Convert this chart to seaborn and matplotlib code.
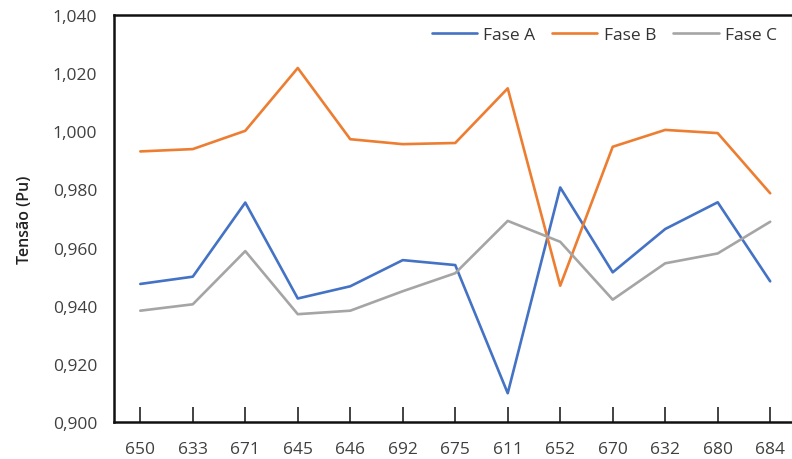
import matplotlib
matplotlib.use("Agg")
import matplotlib.pyplot as plt
import matplotlib.ticker as mticker
import seaborn as sns
import pandas as pd

nodes = ["650", "633", "671", "645", "646", "692", "675", "611", "652", "670", "632", "680", "684"]
fase_a = [0.9475, 0.9500, 0.9755, 0.9425, 0.9467, 0.9557, 0.9540, 0.9099, 0.9807, 0.9515, 0.9664, 0.9756, 0.9484]
fase_b = [0.9931, 0.9939, 1.0002, 1.0218, 0.9973, 0.9956, 0.9960, 1.0148, 0.9469, 0.9947, 1.0005, 0.9994, 0.9787]
fase_c = [0.9383, 0.9405, 0.9588, 0.9371, 0.9383, 0.9450, 0.9512, 0.9692, 0.9620, 0.9421, 0.9546, 0.9580, 0.9689]
series_names = ["Fase A", "Fase B", "Fase C"]
colors = ["#4472C4", "#ED7D31", "#A5A5A5"]

df = pd.DataFrame({"node": nodes * 3,
                   "value": fase_a + fase_b + fase_c,
                   "serie": [series_names[0]] * 13 + [series_names[1]] * 13 + [series_names[2]] * 13})
df["x"] = list(range(13)) * 3

sns.set_style("white")
plt.rcParams["font.family"] = ["Open Sans", "DejaVu Sans"]

fig = plt.figure(figsize=(7.92, 4.6), dpi=100)
ax = fig.add_axes([0.144, 0.0804, 0.8563, 0.8846])

sns.lineplot(data=df, x="x", y="value", hue="serie", palette=colors, linewidth=1.9,
             ax=ax, legend=True)

ax.set_xlim(-0.5, 12.42)
ax.set_ylim(0.900, 1.040)
ax.set_xticks(range(13))
ax.set_xticklabels(nodes)
ax.yaxis.set_major_locator(mticker.MultipleLocator(0.02))
ax.yaxis.set_major_formatter(mticker.FuncFormatter(lambda v, p: f"{v:.3f}".replace(".", ",")))
ax.tick_params(axis="x", direction="in", length=11, width=1.2, colors="#222222",
               labelsize=12.5, pad=14, labelcolor="#404040", bottom=True)
ax.tick_params(axis="y", length=0, labelsize=12.5, pad=12, labelcolor="#404040")
ax.set_xlabel("")
ax.set_ylabel("Tensão (Pu)", fontsize=11.5, fontweight="semibold", color="#222222", labelpad=14)

for s in ["left", "bottom", "top"]:
    ax.spines[s].set_visible(True)
    ax.spines[s].set_color("#111111")
    ax.spines[s].set_linewidth(1.8)
ax.spines["right"].set_color("#eeeeee")
ax.spines["right"].set_linewidth(1.0)

handles, labels = ax.get_legend_handles_labels()
leg = ax.legend(handles, labels, loc="upper right", ncol=3, frameon=False, fontsize=12.5,
                bbox_to_anchor=(1.0, 1.01), handlelength=2.6, columnspacing=1.0,
                handletextpad=0.35, labelcolor="#333333")
for line in leg.get_lines():
    line.set_linewidth(1.9)

fig.savefig("out.png", dpi=100)
